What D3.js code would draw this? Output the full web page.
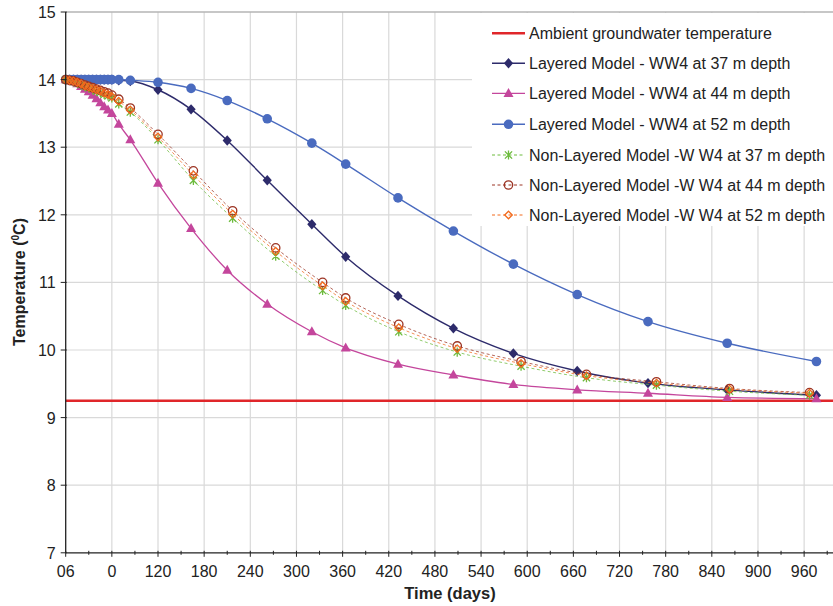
<!DOCTYPE html>
<html><head><meta charset="utf-8">
<script src="https://cdn.jsdelivr.net/npm/d3@7"></script>
<style>body{margin:0;background:#fff}svg{display:block;font-family:"Liberation Sans",Arial,sans-serif}</style>
</head><body>
<svg id="c" width="833" height="606"></svg>
<script>
// ---- data ----
const layeredDays = [0,5,10,15,20,25,30,35,40,45,50,55,60,69,84,120,163,210,262,320,364,432,504,582,665,757,860,976];
const layered37 = [14.00,14.00,14.00,14.00,14.00,14.00,14.00,14.00,14.00,14.00,14.00,14.00,14.00,13.99,13.98,13.85,13.56,13.10,12.51,11.86,11.38,10.80,10.32,9.95,9.69,9.51,9.41,9.33];
const layered44 = [14.00,13.99,13.97,13.94,13.90,13.86,13.82,13.77,13.72,13.66,13.60,13.55,13.50,13.34,13.11,12.47,11.80,11.18,10.68,10.27,10.03,9.79,9.63,9.49,9.41,9.36,9.30,9.28];
const layered52 = [14.00,14.00,14.00,14.00,14.00,14.00,14.00,14.00,14.00,14.00,14.00,14.00,14.00,14.00,13.99,13.96,13.87,13.69,13.42,13.06,12.75,12.25,11.76,11.27,10.82,10.42,10.10,9.83];
const nonLayeredDays = [0,5,10,15,20,25,30,35,40,45,50,55,60,69,84,120,166,217,273,334,364,433,509,592,677,768,863,967];
const nonLayered37 = [14.00,13.99,13.97,13.95,13.93,13.90,13.88,13.86,13.83,13.81,13.78,13.76,13.73,13.64,13.52,13.11,12.51,11.95,11.39,10.88,10.66,10.27,9.97,9.76,9.59,9.48,9.39,9.33];
const nonLayered44 = [14.00,13.99,13.98,13.96,13.94,13.92,13.90,13.88,13.86,13.84,13.82,13.80,13.77,13.71,13.58,13.19,12.65,12.06,11.51,11.00,10.77,10.38,10.06,9.83,9.64,9.53,9.43,9.37];
const nonLayered52 = [14.00,13.99,13.98,13.96,13.94,13.91,13.89,13.87,13.85,13.83,13.80,13.78,13.75,13.68,13.55,13.15,12.59,12.01,11.46,10.95,10.72,10.33,10.02,9.80,9.62,9.51,9.42,9.36];
const ambientTemp = 9.25;
const xTickValues = [0,60,120,180,240,300,360,420,480,540,600,660,720,780,840,900,960];
const xTickLabels = ["06","0","120","180","240","300","360","420","480","540","600","660","720","780","840","900","960"];
const yTickValues = [7,8,9,10,11,12,13,14,15];
const legendLabels = ["Ambient groundwater temperature","Layered Model - WW4 at 37 m depth","Layered Model - WW4 at 44 m depth","Layered Model - WW4 at 52 m depth","Non-Layered Model -W W4 at 37 m depth","Non-Layered Model -W W4 at 44 m depth","Non-Layered Model -W W4 at 52 m depth"];

// ---- setup ----
const svg = d3.select("#c");
const x = d3.scaleLinear().domain([0,1000]).range([65.7,834.9]);
const y = d3.scaleLinear().domain([7,15]).range([552.8,12]);

// marker paths
function markerPath(type){
  if(type==="diamond") return "M0,-5.2L4.6,0L0,5.2L-4.6,0Z";
  if(type==="triangle") return "M0,-5.4L5,3.6L-5,3.6Z";
  if(type==="odiamond") return "M0,-3.8L3.8,0L0,3.8L-3.8,0Z";
  if(type==="star") return "M-3.6,-3.6L3.6,3.6M-3.6,3.6L3.6,-3.6M0,-4.6L0,4.6";
  return null;
}

const series = [
  {label:legendLabels[1], days:layeredDays, vals:layered37, color:"#2d2b6b", dash:null, marker:"diamond", fill:true, lw:1.4},
  {label:legendLabels[2], days:layeredDays, vals:layered44, color:"#c4469c", dash:null, marker:"triangle", fill:true, lw:1.3},
  {label:legendLabels[3], days:layeredDays, vals:layered52, color:"#4a6bbf", dash:null, marker:"circle", fill:true, lw:1.4},
  {label:legendLabels[4], days:nonLayeredDays, vals:nonLayered37, color:"#6cbb3c", dash:"3,2.5", marker:"star", fill:false, lw:1},
  {label:legendLabels[5], days:nonLayeredDays, vals:nonLayered44, color:"#9c3424", dash:"3,2.5", marker:"ocircle", fill:false, lw:1},
  {label:legendLabels[6], days:nonLayeredDays, vals:nonLayered52, color:"#f26a1c", dash:"3,2.5", marker:"odiamond", fill:false, lw:1}
];

// gridlines
const grid = svg.append("g");
grid.selectAll(".vg").data(xTickValues.slice(1)).join("line")
  .attr("x1",d=>x(d)).attr("x2",d=>x(d)).attr("y1",y(15)).attr("y2",y(7))
  .attr("stroke","#d9d9d9").attr("stroke-width",1.2);
grid.selectAll(".hg").data(yTickValues.slice(1,-1)).join("line")
  .attr("x1",x(0)).attr("x2",833).attr("y1",d=>y(d)).attr("y2",d=>y(d))
  .attr("stroke","#d9d9d9").attr("stroke-width",1.2);
svg.append("line").attr("x1",x(0)).attr("x2",833).attr("y1",y(15)).attr("y2",y(15))
  .attr("stroke","#b5b5b5").attr("stroke-width",1.5);

// legend background
svg.append("rect").attr("x",472).attr("y",y(15)+1).attr("width",361).attr("height",213).attr("fill","#fff");

// ambient line
svg.append("line").attr("x1",x(0)).attr("x2",833).attr("y1",y(ambientTemp)).attr("y2",y(ambientTemp))
  .attr("stroke","#e0262a").attr("stroke-width",2.6);

function drawMarker(g, s, cx, cy){
  if(s.marker==="circle"){
    g.append("circle").attr("cx",cx).attr("cy",cy).attr("r",4.8).attr("fill",s.color);
  } else if(s.marker==="ocircle"){
    g.append("circle").attr("cx",cx).attr("cy",cy).attr("r",4.2).attr("fill","none").attr("stroke",s.color).attr("stroke-width",1.3);
  } else {
    const p = g.append("path").attr("d",markerPath(s.marker)).attr("transform",`translate(${cx},${cy})`);
    if(s.fill) p.attr("fill",s.color);
    else p.attr("fill","none").attr("stroke",s.color).attr("stroke-width",1.3);
  }
}

const line = d3.line().x(d=>x(d[0])).y(d=>y(d[1])).curve(d3.curveMonotoneX);
const plot = svg.append("g");
series.forEach(s=>{
  const pts = s.days.map((d,i)=>[d,s.vals[i]]);
  const g = plot.append("g");
  g.append("path").attr("d",line(pts)).attr("fill","none").attr("stroke",s.color)
    .attr("stroke-width",s.lw).attr("stroke-dasharray",s.dash).attr("opacity",s.dash?0.75:1);
  pts.forEach(p=>drawMarker(g,s,x(p[0]),y(p[1])));
});

// axes
const xAxisG = svg.append("g").attr("transform",`translate(0,${y(7)})`);
xAxisG.append("line").attr("x1",x(0)).attr("x2",833).attr("stroke","#222").attr("stroke-width",1.3);
const minorX = d3.range(30,1000,60);
xAxisG.selectAll(".mt").data(minorX).join("line").attr("x1",d=>x(d)).attr("x2",d=>x(d)).attr("y1",-2).attr("y2",2).attr("stroke","#222");
xAxisG.selectAll(".Mt").data(xTickValues).join("line").attr("x1",d=>x(d)).attr("x2",d=>x(d)).attr("y1",-2).attr("y2",4).attr("stroke","#222");
xAxisG.selectAll(".xl").data(xTickValues).join("text").attr("x",d=>x(d)).attr("y",24)
  .attr("text-anchor","middle").attr("font-size",16).attr("fill","#222").text((d,i)=>xTickLabels[i]);

const yAxisG = svg.append("g").attr("transform",`translate(${x(0)},0)`);
yAxisG.append("line").attr("y1",y(15)).attr("y2",y(7)).attr("stroke","#222").attr("stroke-width",1.3);
yAxisG.selectAll(".yt").data(yTickValues).join("line").attr("x1",-5).attr("x2",1).attr("y1",d=>y(d)).attr("y2",d=>y(d)).attr("stroke","#222");
yAxisG.selectAll(".yl").data(yTickValues).join("text").attr("x",-10).attr("y",d=>y(d)+6)
  .attr("text-anchor","end").attr("font-size",16).attr("fill","#222").text(d=>d);

svg.append("text").attr("x",450).attr("y",599).attr("text-anchor","middle").attr("font-size",16.5)
  .attr("font-weight","bold").attr("fill","#222").text("Time (days)");
const yt = svg.append("text").attr("transform","translate(25,282) rotate(-90)").attr("text-anchor","middle")
  .attr("font-size",16).attr("font-weight","bold").attr("fill","#222");
yt.append("tspan").text("Temperature (");
yt.append("tspan").attr("font-size",10).attr("dy",-6).text("0");
yt.append("tspan").attr("dy",6).text("C)");

// legend
const leg = svg.append("g");
const rowsY = [33.3,63.3,93.3,124.3,155,185,215];
leg.append("line").attr("x1",492).attr("x2",525).attr("y1",rowsY[0]).attr("y2",rowsY[0]).attr("stroke","#e0262a").attr("stroke-width",2.6);
series.forEach((s,i)=>{
  const yy = rowsY[i+1];
  const g = leg.append("g");
  g.append("line").attr("x1",492).attr("x2",525).attr("y1",yy).attr("y2",yy).attr("stroke",s.color)
    .attr("stroke-width",s.lw).attr("stroke-dasharray",s.dash);
  drawMarker(g,s,508.5,yy);
});
leg.selectAll(".lt").data(legendLabels).join("text").attr("x",529).attr("y",(d,i)=>rowsY[i]+5.5)
  .attr("font-size",16).attr("fill","#222").text(d=>d);
</script>
</body></html>
